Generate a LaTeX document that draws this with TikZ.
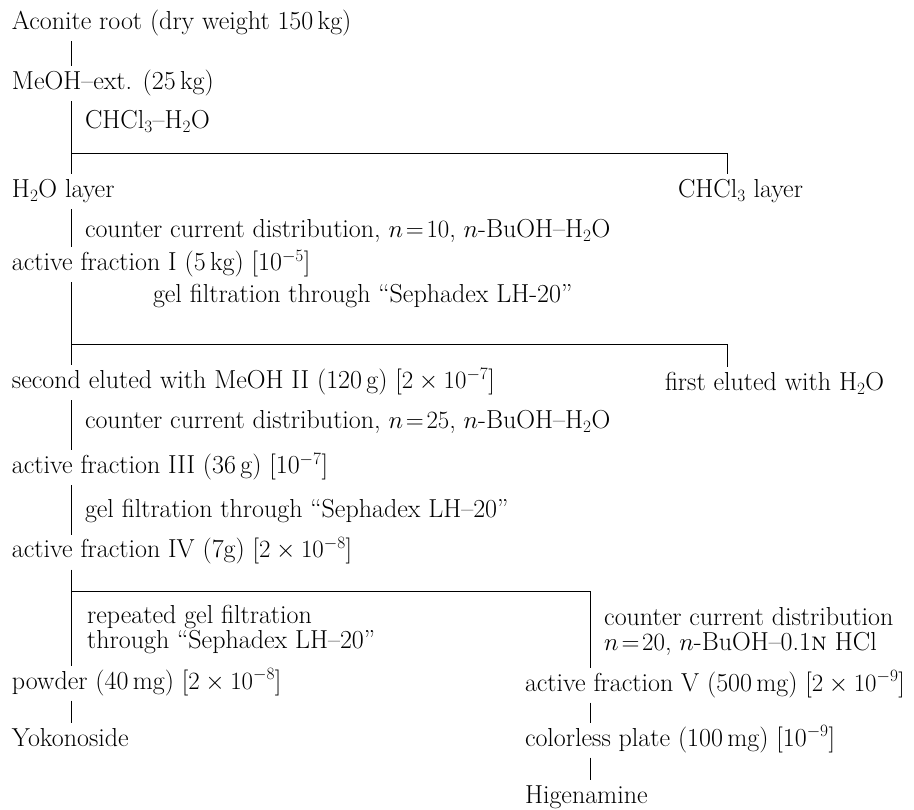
\documentclass[tikz,border=0pt]{standalone}
\usepackage{amsmath}
\usetikzlibrary{calc}
\tikzset{
  stage/.style={anchor=west,inner sep=0pt,outer sep=0pt,
                text height=18.5pt,text depth=6.5pt},  % products
  proc/.style={stage},                                 % treatment notes
  proc2/.style={anchor=west,inner sep=0pt,align=left}, % two-line notes
  stem/.style={line width=0.8pt,shorten <=5pt,shorten >=5pt},
  split/.style={line width=0.7pt,shorten >=5pt}
}

\begin{document}
\begin{tikzpicture}[x=1pt,y=-1pt,font=\fontsize{26}{25}\selectfont]
  \useasboundingbox (0,0) rectangle (914,810);
  \coordinate (trunk) at (71,0);
  \coordinate (fork) at (590,0);
  \coordinate (side) at (727,0);

  \node[stage] (root) at (12,24) {Aconite root (dry weight 150\,kg)};
  \node[stage] (meoh) at (12,84) {MeOH--ext. (25\,kg)};
  \node[proc] (part) at (85,123) {CHCl$_3$--H$_2$O};
  \node[stage] (water) at (12,192) {H$_2$O layer};
  \node[stage] (chloro) at (678,192) {CHCl$_3$ layer};
  \node[proc] (ccd1) at (85,232) {counter current distribution, $n\!=\!10$, $n$-BuOH--H$_2$O};
  \node[stage] (frac1) at (12,265) {active fraction I (5\,kg) [10$^{-5}$]};
  \node[proc] (gel1) at (153,297) {gel filtration through ``Sephadex LH-20''};
  \node[stage] (frac2) at (12,383) {second eluted with MeOH II (120\,g) [$2\times10^{-7}$]};
  \node[stage] (first) at (665,385) {first eluted with H$_2$O};
  \node[proc] (ccd2) at (85,423) {counter current distribution, $n\!=\!25$, $n$-BuOH--H$_2$O};
  \node[stage] (frac3) at (12,468) {active fraction III (36\,g) [10$^{-7}$]};
  \node[proc] (gel2) at (85,512) {gel filtration through ``Sephadex LH--20''};
  \node[stage] (frac4) at (12,552) {active fraction IV (7g) [$2\times10^{-8}$]};
  \node[proc2] (gel3) at (87,630) {repeated gel filtration\\through ``Sephadex LH--20''};
  \node[proc2] (ccd3) at (604,631) {counter current distribution\\$n\!=\!20$, $n$-BuOH--0.1\textsc{n} HCl};
  \node[stage] (powder) at (12,683) {powder (40\,mg) [$2\times10^{-8}$]};
  \node[stage] (frac5) at (525,685) {active fraction V (500\,mg) [$2\times10^{-9}$]};
  \node[stage] (yoko) at (12,740) {Yokonoside};
  \node[stage] (plate) at (525,740) {colorless plate (100\,mg) [10$^{-9}$]};
  \node[stage] (higen) at (525,797) {Higenamine};

  % main stem
  \draw[stem] (root.south -| trunk) -- (meoh.north -| trunk);
  \draw[stem] (meoh.south -| trunk) -- (water.north -| trunk);
  \draw[stem] (water.south -| trunk) -- (frac1.north -| trunk);
  \draw[stem] (frac1.south -| trunk) -- (frac2.north -| trunk);
  \draw[stem] (frac2.south -| trunk) -- (frac3.north -| trunk);
  \draw[stem] (frac3.south -| trunk) -- (frac4.north -| trunk);
  \draw[stem] (frac4.south -| trunk) -- (powder.north -| trunk);
  \draw[stem] (powder.south -| trunk) -- (yoko.north -| trunk);

  % side branches
  \coordinate (cut1) at (71,153);
  \coordinate (cut2) at (71,344);
  \coordinate (cut3) at (71,591);
  \draw[split] (cut1) -| (chloro.north -| side);
  \draw[split] (cut2) -| (first.north -| side);
  \draw[split] (cut3) -| (frac5.north -| fork);
  \draw[stem] (frac5.south -| fork) -- (plate.north -| fork);
  \draw[stem] (plate.south -| fork) -- (higen.north -| fork);
\end{tikzpicture}
\end{document}
